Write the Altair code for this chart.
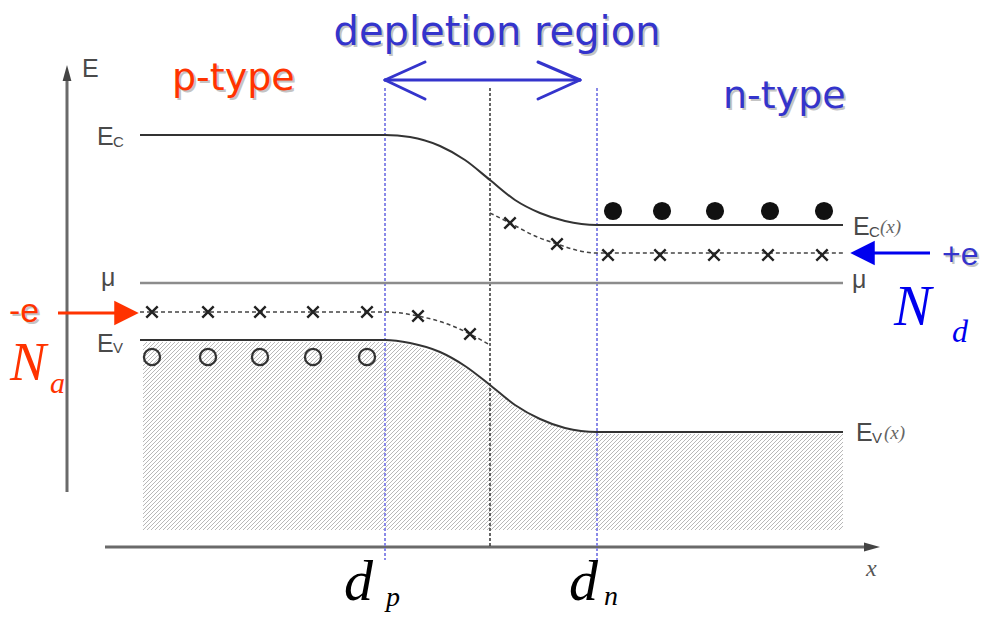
import altair as alt
import numpy as np
import pandas as pd

# ---------------- data (diagram coordinates, y grows downward) ----------------
# band edges
ec_x = [140, 385, 410, 440, 465, 490, 515, 540, 565, 597, 843]
ec_y = [135, 135, 137, 146, 160, 180, 200, 213, 221, 225, 225]
ev_x = [140, 385, 410, 440, 465, 490, 515, 540, 565, 597, 843]
ev_y = [340, 340, 343, 352, 366, 385, 405, 419, 428, 432, 432]
mu_x = [140, 843]
mu_y = [283, 283]
# impurity levels
acc_x = [140, 385, 418, 450, 470, 490]
acc_y = [312, 312, 316, 325, 334, 345]
don_x = [490, 510, 535, 557, 580, 597, 843]
don_y = [213, 223, 236, 244, 251, 253, 253]
# ionised acceptors / donors (x marks)
xmark_x = [152, 208, 260, 313, 367, 418, 470, 510, 557, 608, 660, 714, 768, 822]
xmark_y = [312, 312, 312, 312, 312, 316, 334, 223, 244, 255, 255, 255, 255, 255]
# holes (open) and electrons (filled)
hole_x = [152, 208, 260, 313, 367]
hole_y = [357, 357, 357, 357, 357]
elec_x = [613, 662, 715, 770, 824]
elec_y = [211, 211, 211, 211, 211]
# hatched valence band region
hatch_left, hatch_right, hatch_bottom, hatch_step = 143, 843, 530, 4.0
# junction positions
dp_x, dn_x, mid_x = 385, 597, 490

# ---------------- derived geometry ----------------
ec_df = pd.DataFrame({"x": ec_x, "y": ec_y, "o": range(len(ec_x))})
ev_df = pd.DataFrame({"x": ev_x, "y": ev_y, "o": range(len(ev_x))})
mu_df = pd.DataFrame({"x": mu_x, "y": mu_y, "o": range(len(mu_x))})
acc_df = pd.DataFrame({"x": acc_x, "y": acc_y, "o": range(len(acc_x))})
don_df = pd.DataFrame({"x": don_x, "y": don_y, "o": range(len(don_x))})
xm_df = pd.DataFrame({"x": xmark_x, "y": xmark_y})
hole_df = pd.DataFrame({"x": hole_x, "y": hole_y})
elec_df = pd.DataFrame({"x": elec_x, "y": elec_y})

# hatch segments (45 deg lines clipped to the region under Ev)
grid = np.arange(hatch_left, hatch_right + 0.01, 0.25)
top = np.interp(grid, ev_x, ev_y)
segs = []
for x0 in np.arange(hatch_left - (hatch_bottom - 330), hatch_right, hatch_step):
    xs = max(x0, hatch_left)
    ys = hatch_bottom - (xs - x0)
    if ys <= np.interp(xs, ev_x, ev_y) + 2:
        continue
    m = grid >= xs
    gx, gt = grid[m], top[m] + 2
    ly = hatch_bottom - (gx - x0)
    hit = np.nonzero(ly <= gt)[0]
    xe = gx[hit[0]] if len(hit) else hatch_right
    ye = hatch_bottom - (xe - x0)
    segs.append((xs, ys, xe, ye))
hatch_df = pd.DataFrame(segs, columns=["x", "y", "x2", "y2"])

XS = alt.Scale(domain=[8, 981], nice=False, zero=False)
YS = alt.Scale(domain=[613, 8], nice=False, zero=False)


def X(f="x"):
    return alt.X(f"{f}:Q", scale=XS, axis=None)


def Y(f="y"):
    return alt.Y(f"{f}:Q", scale=YS, axis=None)


def seg_layer(rows, **kw):
    df = pd.DataFrame(rows, columns=["x", "y", "x2", "y2"])
    return alt.Chart(df).mark_rule(**kw).encode(
        x=X(), y=Y(), x2="x2:Q", y2="y2:Q")


def line_layer(df, **kw):
    return alt.Chart(df).mark_line(**kw).encode(x=X(), y=Y(), order="o:Q")


def text_layer(rows, **kw):
    df = pd.DataFrame(rows, columns=["x", "y", "t"])
    return alt.Chart(df).mark_text(**kw).encode(x=X(), y=Y(), text="t:N")


def head_layer(x, y, shape, size, color):
    df = pd.DataFrame({"x": [x], "y": [y]})
    return alt.Chart(df).mark_point(shape=shape, size=size, filled=True,
                                    color=color, opacity=1, strokeWidth=0).encode(x=X(), y=Y())


layers = []
# hatch
layers.append(alt.Chart(hatch_df).mark_rule(color="#b8b8b8", strokeWidth=1).encode(
    x=X(), y=Y(), x2="x2:Q", y2="y2:Q"))

# axes
layers.append(seg_layer([(67, 492, 67, 76)], color="#6a6a6a", strokeWidth=3))
layers.append(head_layer(67, 73, "M 0 -1 L -0.55 1 L 0.55 1 Z", 256, "#444"))
layers.append(seg_layer([(105, 547, 868, 547)], color="#6a6a6a", strokeWidth=3))
layers.append(head_layer(872, 547, "M 1 0 L -1 -0.55 L -1 0.55 Z", 256, "#444"))

# vertical dashed lines
layers.append(seg_layer([(dp_x, 88, dp_x, 560), (dn_x, 88, dn_x, 560)],
                        color="#8a8ae8", strokeWidth=2, strokeDash=[3, 2]))
layers.append(seg_layer([(mid_x, 88, mid_x, 547)], color="#333333",
                        strokeWidth=1.5, strokeDash=[3, 2]))

# band lines
layers.append(line_layer(mu_df, color="#8c8c8c", strokeWidth=2.5))
layers.append(line_layer(ec_df, color="#333333", strokeWidth=2, interpolate="monotone"))
layers.append(line_layer(ev_df, color="#333333", strokeWidth=2, interpolate="monotone"))
layers.append(line_layer(acc_df, color="#444444", strokeWidth=1.5, strokeDash=[4, 3],
                         interpolate="monotone"))
layers.append(line_layer(don_df, color="#444444", strokeWidth=1.5, strokeDash=[4, 3],
                         interpolate="monotone"))

# markers
layers.append(alt.Chart(xm_df).mark_point(
    shape="M -1 -1 L 1 1 M -1 1 L 1 -1", size=130, filled=False,
    color="#222222", strokeWidth=2.4, opacity=1).encode(x=X(), y=Y()))
layers.append(alt.Chart(hole_df).mark_point(
    shape="circle", size=260, filled=False, color="#333333",
    strokeWidth=2.3, opacity=1).encode(x=X(), y=Y()))
layers.append(alt.Chart(elec_df).mark_point(
    shape="circle", size=330, filled=True, color="#111111",
    opacity=1).encode(x=X(), y=Y()))

# depletion double arrow
blue = "#3434cc"
layers.append(seg_layer([(dp_x, 80, 580, 80), (dp_x, 80, 425, 62), (dp_x, 80, 425, 99),
                         (580, 80, 538, 62), (580, 80, 538, 99)],
                        color=blue, strokeWidth=3, strokeCap="round"))

# -e / +e arrows
red = "#ff3300"
layers.append(seg_layer([(58, 313, 118, 313)], color=red, strokeWidth=3))
layers.append(head_layer(126.5, 313, "M 1 0 L -1 -1 L -1 1 Z", 600, red))
layers.append(seg_layer([(870, 253, 930, 253)], color="#0000ee", strokeWidth=3))
layers.append(head_layer(862.5, 253, "M -1 0 L 1 -1 L 1 1 Z", 600, "#0000ee"))

# ---- texts ----
sans = "DejaVu Sans"
shadow = "#c4c4c4"
big = [
    (497, 45, "depletion region", 40, blue, "center", sans),
    (172, 90, "p-type", 38, red, "left", sans),
    (723, 108, "n-type", 38, blue, "left", sans),
    (9, 322, "-e", 34, red, "left", "Liberation Sans"),
    (942, 265, "+e", 32, blue, "left", "Liberation Sans"),
]
for x, y, t, s, c, a, f in big:
    layers.append(text_layer([(x + 2, y + 2, t)], font=f, fontSize=s,
                             color=shadow, align=a, baseline="alphabetic"))
    layers.append(text_layer([(x, y, t)], font=f, fontSize=s,
                             color=c, align=a, baseline="alphabetic"))

gray = "#4a4a4a"
lab = "Liberation Sans"
layers.append(text_layer([(82, 77, "E"), (97, 145, "E"), (97, 352, "E"),
                          (853, 235, "E"), (856, 441, "E")],
                         font=lab, fontSize=25, color=gray, align="left", baseline="alphabetic"))
layers.append(text_layer([(113, 147, "C"), (869, 237, "C")],
                         font=lab, fontSize=15, color=gray, align="left", baseline="alphabetic"))
layers.append(text_layer([(113, 353, "V"), (872, 443, "V")],
                         font=lab, fontSize=15, color=gray, align="left", baseline="alphabetic"))
layers.append(text_layer([(880, 233, "(x)"), (884, 439, "(x)")],
                         font="Liberation Serif", fontSize=19, fontStyle="italic",
                         color="#666666", align="left", baseline="alphabetic"))
layers.append(text_layer([(101, 286, "μ"), (852, 288, "μ")],
                         font=lab, fontSize=25, color=gray, align="left", baseline="alphabetic"))
layers.append(text_layer([(866, 576, "x")], font="Liberation Serif", fontSize=24,
                         fontStyle="italic", color="#555555", align="left",
                         baseline="alphabetic"))

serif = "Liberation Serif"
layers.append(text_layer([(10, 380, "N")], font=serif, fontSize=54, fontStyle="italic",
                         color=red, align="left", baseline="alphabetic"))
layers.append(text_layer([(50, 393, "a")], font=serif, fontSize=30, fontStyle="italic",
                         color=red, align="left", baseline="alphabetic"))
layers.append(text_layer([(894, 325, "N")], font=serif, fontSize=56, fontStyle="italic",
                         color="#0000ee", align="left", baseline="alphabetic"))
layers.append(text_layer([(952, 342, "d")], font=serif, fontSize=32, fontStyle="italic",
                         color="#0000ee", align="left", baseline="alphabetic"))
layers.append(text_layer([(344, 600, "d"), (569, 600, "d")], font=serif, fontSize=58,
                         fontStyle="italic", color="#000000", align="left",
                         baseline="alphabetic"))
layers.append(text_layer([(386, 606, "p"), (604, 605, "n")], font=serif, fontSize=28,
                         fontStyle="italic", color="#000000", align="left",
                         baseline="alphabetic"))

chart = alt.layer(*layers).properties(
    width=973, height=605, padding=0, autosize=alt.AutoSizeParams(type="none"),
    background="white"
).configure_view(stroke=None)

chart.save("out.html", embed_options={"renderer": "svg", "actions": False})
